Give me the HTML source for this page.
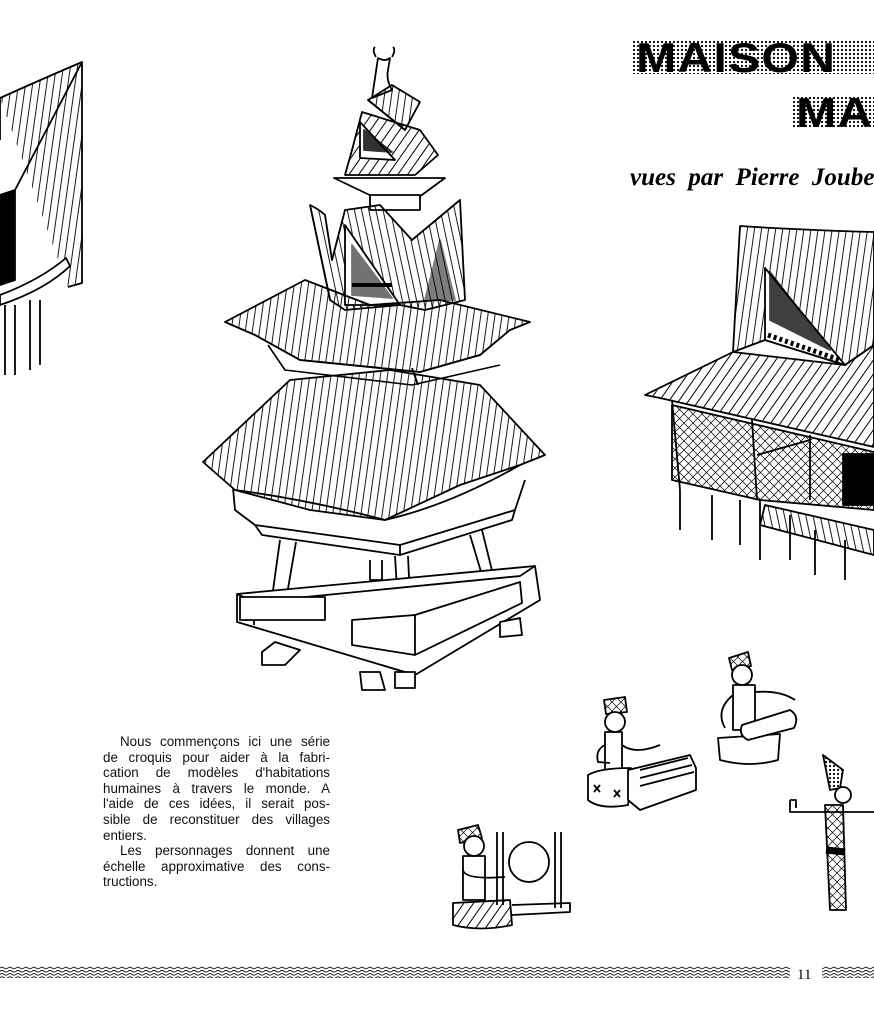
<!DOCTYPE html>
<html><head><meta charset="utf-8"><style>
html,body{margin:0;padding:0;background:#fff;}
body{width:874px;height:1024px;position:relative;overflow:hidden;font-family:"Liberation Sans",sans-serif;}
svg{position:absolute;left:0;top:0;}
.t{position:absolute;left:103px;width:227px;font-size:13.4px;line-height:15.6px;color:#111;}
.t div{text-align:justify;text-align-last:justify;white-space:nowrap;}
.t div.l{text-align-last:left;}
.ti{position:absolute;font-family:"Liberation Sans",sans-serif;font-weight:bold;color:#000;letter-spacing:1px;transform-origin:0 0;}
</style></head><body>
<svg width="874" height="1024" viewBox="0 0 874 1024">
<defs>
<pattern id="dots" width="4" height="4" patternUnits="userSpaceOnUse"><circle cx="2" cy="2" r="1.1" fill="#000"/></pattern>
<pattern id="vh" width="7" height="10" patternUnits="userSpaceOnUse" patternTransform="rotate(8)"><line x1="2" y1="0" x2="2" y2="10" stroke="#000" stroke-width="0.9"/></pattern>
<pattern id="vh2" width="7" height="10" patternUnits="userSpaceOnUse" patternTransform="rotate(-12)"><line x1="2" y1="0" x2="2" y2="10" stroke="#000" stroke-width="0.9"/></pattern>
<pattern id="dg" width="8" height="10" patternUnits="userSpaceOnUse" patternTransform="rotate(35)"><line x1="2" y1="0" x2="2" y2="10" stroke="#000" stroke-width="1"/></pattern>
<pattern id="xh" width="9" height="9" patternUnits="userSpaceOnUse"><path d="M0 9L9 0M0 0L9 9" stroke="#000" stroke-width="0.7"/></pattern>
<pattern id="wave" width="8" height="3.2" patternUnits="userSpaceOnUse"><path d="M0 1.6Q2 0 4 1.6T8 1.6" fill="none" stroke="#000" stroke-width="0.8"/></pattern>
</defs>
<g fill="none" stroke="#000" stroke-width="1.8" stroke-linejoin="round">
<path d="M0 98Q40 80 82 62L82 283L68 287" fill="url(#vh)"/>
<path d="M82 62L15 190L0 200"/>
<path d="M0 98L0 140" />
<path d="M0 195L15 190L15 280L0 285Z" fill="#000"/>
<path d="M0 295Q40 280 66 258L70 266Q45 290 0 305Z" fill="#fff"/>
<path d="M5 305V375M15 305V375M30 300V370M40 300V365"/>
<path d="M376 57Q372 50 375 47M392 57Q396 50 393 47M378 58Q385 62 390 58L388 70Q386 80 392 90L372 98Z" fill="#fff"/>
<path d="M368 100L392 85L420 102L405 130Z" fill="url(#vh)"/>
<path d="M368 100L405 130"/>
<path d="M352 150L362 112L420 130L438 155L415 175L345 175Z" fill="url(#dg)"/>
<path d="M360 122L360 158L395 160Z" fill="#fff"/>
<path d="M364 150L392 152L364 130Z" fill="#000" opacity="0.8"/>
<path d="M334 178L445 178L415 200L380 200Z" fill="#fff"/>
<path d="M370 195H420V210H370Z" fill="#fff"/>
<path d="M310 205Q320 210 325 215L332 260L345 210L380 205L412 240L460 200L465 300L425 310L400 305L345 310L330 300Z" fill="url(#vh2)"/>
<path d="M345 225L345 305L400 305Z" fill="#fff"/>
<path d="M352 245L352 295L392 298Z" fill="#000" opacity="0.55"/>
<path d="M352 285H392" stroke-width="4"/>
<path d="M440 240L425 300L455 300Z" fill="#000" opacity="0.5"/>
<path d="M225 322L305 280L370 305L440 300L530 322L510 330L480 355L420 372L300 360L255 335Z" fill="url(#vh)"/>
<path d="M255 335L300 360L420 372L480 355"/>
<path d="M268 345L285 370L412 385L500 365" stroke-width="1.6"/>
<path d="M412 368L418 385"/>
<path d="M203 462L290 380L390 370L480 385L545 455L520 465L460 485L385 520L310 510L235 490Z" fill="url(#vh)"/>
<path d="M235 490Q310 500 385 520Q450 505 520 465"/>
<path d="M233 488L235 510L255 525L400 545L515 510L525 480"/>
<path d="M255 525L262 535L400 555L400 545M400 555L512 520L515 510"/>
<path d="M280 540L270 612H284L296 542M395 556L400 640H412L408 556M470 535L488 595H498L482 530M370 560V580H382V560"/>
<path d="M237 594L535 566L540 600L415 675L237 622Z" fill="#fff"/>
<path d="M237 594L254 602L520 576L535 566M254 602L254 625"/>
<path d="M240 597H325V620H240ZM352 620L415 615L415 655L352 645Z" fill="#fff"/>
<path d="M415 615L520 582L522 603L415 655"/>
<path d="M262 652L275 642L300 650L285 665L262 665ZM360 672H380L385 690H362ZM395 672H415V688H395ZM500 622L520 618L522 635L500 637Z" fill="#fff"/>
<path d="M740 226Q800 230 874 232V345L845 365L765 340L733 352Z" fill="url(#vh)"/>
<path d="M765 268L765 340L845 365Z" fill="#fff"/>
<path d="M770 272L770 320L830 350Z" fill="#000" opacity="0.75"/>
<path d="M768 335L840 360" stroke-width="5" stroke-dasharray="3 3"/>
<path d="M733 352L645 395L660 398L874 447V345L845 365Z" fill="url(#dg)"/>
<path d="M672 405L874 452V510L760 500L672 480Z" fill="url(#xh)"/>
<path d="M843 454H874V505H843Z" fill="#000"/>
<path d="M672 400L680 490M752 420L757 500M810 435L810 500M757 455L810 440"/>
<path d="M765 505L874 530V555L760 525Z" fill="url(#vh2)"/>
<path d="M680 490V530M712 495V540M740 500V545M760 500V560M790 515V560M815 530V575M845 540V580"/>
<path d="M604 700L625 697L627 712L606 714Z" fill="url(#xh)"/>
<circle cx="615" cy="722" r="10" fill="#fff"/>
<path d="M605 732V773H622V732ZM605 745Q595 750 598 762L610 763M622 745Q635 755 660 745"/>
<path d="M588 775Q600 768 630 768Q640 770 630 790L628 805Q600 810 588 800Z" fill="#fff"/>
<path d="M594 785L600 792M600 785L594 792M614 790L620 797M620 790L614 797"/>
<path d="M628 770L690 755L696 768L696 790L640 810L628 800Z" fill="#fff"/>
<path d="M640 770L688 758M640 778L692 765M640 786L694 772"/>
<path d="M729 658L748 652L751 666L732 670Z" fill="url(#xh)"/>
<circle cx="742" cy="675" r="10" fill="#fff"/>
<path d="M733 685V730H755V685ZM733 695Q715 710 725 728M755 692Q780 690 795 700"/>
<path d="M718 738L780 734L778 760Q750 768 720 760Z" fill="#fff"/>
<path d="M742 725L790 710Q800 716 794 728L748 740Q738 735 742 725Z" fill="#fff"/>
<path d="M458 830L478 825L482 838L460 843Z" fill="url(#xh)"/>
<circle cx="474" cy="846" r="10" fill="#fff"/>
<path d="M463 856V900H485V856ZM463 870Q465 880 505 877"/>
<path d="M453 903L510 900L512 925Q480 932 453 925Z" fill="url(#dg)"/>
<circle cx="529" cy="862" r="20" fill="#fff"/>
<path d="M497 832V905M503 832V905M555 832V908M561 832V908M512 905L570 903L570 912L512 915"/>
<path d="M823 755L843 770L840 788L830 790Z" fill="url(#dots)"/>
<circle cx="843" cy="795" r="8" fill="#fff"/>
<path d="M790 800V812H874M790 800H796V808"/>
<path d="M825 805L843 805L846 910L830 910Z" fill="url(#xh)"/>
<path d="M826 850L845 852" stroke-width="7"/>
</g>
<rect x="632" y="40" width="242" height="34" fill="url(#dots)"/>
<rect x="792" y="95" width="82" height="33" fill="url(#dots)"/>
<rect x="0" y="966" width="790" height="12" fill="url(#wave)"/>
<rect x="822" y="966" width="52" height="12" fill="url(#wave)"/>
<text x="797" y="979" font-family="Liberation Serif,serif" font-size="15">11</text>
</svg>
<div class="ti" style="left:636px;top:36px;font-size:42px;line-height:44px;transform:scaleX(1.15);">MAISON</div>
<div class="ti" style="left:796px;top:91px;font-size:42px;line-height:44px;transform:scaleX(1.15);">MA</div>
<div style="position:absolute;left:630px;top:164px;font-family:'Liberation Serif',serif;font-style:italic;font-weight:bold;font-size:25px;white-space:nowrap;letter-spacing:0px;">vues&nbsp; par&nbsp; Pierre&nbsp; Joubert</div>
<div class="t" style="top:734px;">
<div style="padding-left:17px">Nous commençons ici une série</div>
<div>de croquis pour aider à la fabri-</div>
<div>cation de modèles d'habitations</div>
<div>humaines à travers le monde. A</div>
<div>l'aide de ces idées, il serait pos-</div>
<div>sible de reconstituer des villages</div>
<div class="l">entiers.</div>
<div style="padding-left:17px">Les personnages donnent une</div>
<div>échelle approximative des cons-</div>
<div class="l">tructions.</div>
</div>
</body></html>
